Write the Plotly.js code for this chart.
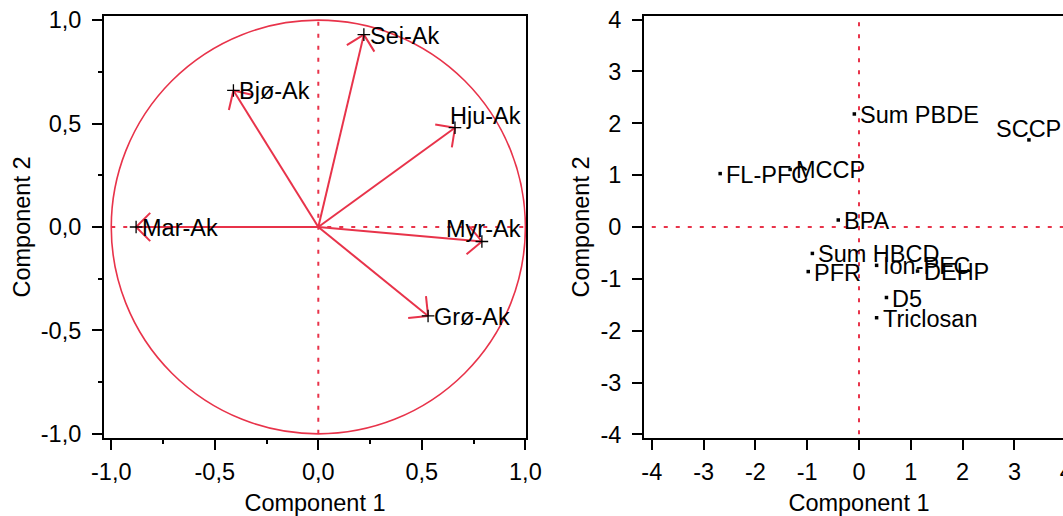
<!DOCTYPE html>
<html>
<head>
<meta charset="utf-8">
<script src="https://cdn.plot.ly/plotly-3.0.1.min.js"></script>
<style>
html, body { margin: 0; padding: 0; overflow: hidden; background: #fff; }
#chart { width: 1090px; height: 516px; }
</style>
</head>
<body>
<div id="chart"></div>
<script>
// ---- Data: loadings (left panel) ----
const loadingNames = ['Sei-Ak', 'Bjø-Ak', 'Hju-Ak', 'Mar-Ak', 'Myr-Ak', 'Grø-Ak'];
const loadingX = [0.22, -0.41, 0.66, -0.88, 0.79, 0.53];
const loadingY = [0.93, 0.66, 0.48, 0.00, -0.07, -0.43];

// ---- Data: scores (right panel) ----
const scoreNames = ['Sum PBDE', 'SCCP', 'FL-PFC', 'MCCP', 'BPA', 'Sum HBCD', 'PFR', 'Ion-PFC', 'DEHP', 'D5', 'Triclosan'];
const scoreX = [-0.09, 3.28, -2.68, -1.33, -0.40, -0.90, -0.98, 0.34, 1.13, 0.53, 0.34];
const scoreY = [2.18, 1.68, 1.03, 1.11, 0.135, -0.51, -0.86, -0.74, -0.85, -1.36, -1.75];

// ---- Ticks ----
const leftTicks = [-1.0, -0.5, 0.0, 0.5, 1.0];
const leftTickLabels = ['-1,0', '-0,5', '0,0', '0,5', '1,0'];
const rightTicks = [-4, -3, -2, -1, 0, 1, 2, 3, 4];
const rightTickLabels = ['-4', '-3', '-2', '-1', '0', '1', '2', '3', '4'];
const axisTitleX = 'Component 1';
const axisTitleY = 'Component 2';

// ---- Label placement style (not data) ----
const edgeLabels = new Set(['Hju-Ak', 'Myr-Ak']);
const aboveLabels = new Set(['SCCP']);

// ---- Layout constants ----
const W = 1090, H = 516;
const margin = { l: 104, r: 16, t: 16, b: 78 };
const plotW = W - margin.l - margin.r;
const plotH = H - margin.t - margin.b;
const xDom1 = [0, 0.43505], xDom2 = [0.5567, 1];
const xr1 = [-1.035, 1.003], yr1 = [-1.02, 1.02];
const xr2 = [-4.15, 4.15], yr2 = [-4.07, 4.07];
const RED = '#e8334a';
const FONT = 'Liberation Sans, Arial, Helvetica, sans-serif';
const FS = 23.5;

const sx = plotW * (xDom1[1] - xDom1[0]) / (xr1[1] - xr1[0]);
const sy = plotH / (yr1[1] - yr1[0]);

// Build arrow paths (shaft + open head) from the loading values
const ax = [], ay = [];
const armPx = 20, armAng = Math.PI / 4;
for (let i = 0; i < loadingX.length; i++) {
  const x = loadingX[i], y = loadingY[i];
  ax.push(0, x, null);
  ay.push(0, y, null);
  const px = x * sx, py = y * sy;
  const len = Math.hypot(px, py);
  const bx = -px / len, by = -py / len;
  for (const s of [-1, 1]) {
    const c = Math.cos(s * armAng), sn = Math.sin(s * armAng);
    const rx = bx * c - by * sn, ry = bx * sn + by * c;
    ax.push(x, x + rx * armPx / sx, null);
    ay.push(y, y + ry * armPx / sy, null);
  }
}

const traces = [
  {
    x: ax, y: ay, xaxis: 'x', yaxis: 'y', mode: 'lines', type: 'scatter',
    line: { color: RED, width: 2 }, hoverinfo: 'skip', showlegend: false
  },
  {
    x: loadingX, y: loadingY, xaxis: 'x', yaxis: 'y', mode: 'markers', type: 'scatter',
    marker: { symbol: 'cross-thin', size: 9, line: { color: '#000', width: 1.3 }, color: '#000' },
    showlegend: false
  },
  {
    x: scoreX, y: scoreY, xaxis: 'x2', yaxis: 'y2', mode: 'markers', type: 'scatter',
    marker: { symbol: 'square', size: 3.5, color: '#000' },
    showlegend: false
  }
];

const lblFont = { family: FONT, size: FS, color: '#000' };
const annotations = [];
loadingNames.forEach((n, i) => {
  if (edgeLabels.has(n)) {
    annotations.push({
      xref: 'x domain', yref: 'y', x: 1, y: loadingY[i], xanchor: 'right', yanchor: 'middle',
      xshift: -3, yshift: 12, text: n, showarrow: false, font: lblFont
    });
  } else {
    annotations.push({
      xref: 'x', yref: 'y', x: loadingX[i], y: loadingY[i], xanchor: 'left', yanchor: 'middle',
      xshift: 4, yshift: -1, text: n, showarrow: false, font: lblFont
    });
  }
});
scoreNames.forEach((n, i) => {
  if (aboveLabels.has(n)) {
    annotations.push({
      xref: 'x2', yref: 'y2', x: scoreX[i], y: scoreY[i], xanchor: 'center', yanchor: 'middle',
      yshift: 11, text: n, showarrow: false, font: lblFont
    });
  } else {
    annotations.push({
      xref: 'x2', yref: 'y2', x: scoreX[i], y: scoreY[i], xanchor: 'left', yanchor: 'middle',
      xshift: 4, yshift: -1, text: n, showarrow: false, font: lblFont
    });
  }
});

const dotLine = { color: RED, width: 2, dash: '4px,8px' };
const shapes = [
  { type: 'circle', xref: 'x', yref: 'y', x0: -1, x1: 1, y0: -1, y1: 1, line: { color: RED, width: 1.6 } },
  { type: 'line', xref: 'x', yref: 'y', x0: 0, x1: 0, y0: -1, y1: 1, line: dotLine, layer: 'below' },
  { type: 'line', xref: 'x', yref: 'y', x0: -1, x1: 1, y0: 0, y1: 0, line: dotLine, layer: 'below' },
  { type: 'line', xref: 'x2', yref: 'y2', x0: 0, x1: 0, y0: -4, y1: 4, line: dotLine, layer: 'below' },
  { type: 'line', xref: 'x2', yref: 'y2', x0: -4, x1: 4.15, y0: 0, y1: 0, line: dotLine, layer: 'below' }
];

function axisBase(extra) {
  return Object.assign({
    showgrid: false, zeroline: false, showline: true, mirror: true,
    linecolor: '#000', linewidth: 2, ticks: 'outside', ticklen: 10, tickwidth: 2, tickcolor: '#000',
    tickfont: { family: FONT, size: FS, color: '#000' }, automargin: false, fixedrange: true,
    tickmode: 'array'
  }, extra);
}
const minorTicks = { dtick: 0.25, tick0: 0, ticklen: 4, tickwidth: 2, tickcolor: '#000', ticks: 'outside' };

const layout = {
  width: W, height: H, margin: margin,
  paper_bgcolor: '#fff', plot_bgcolor: '#fff',
  showlegend: false,
  font: { family: FONT, size: FS, color: '#000' },
  xaxis: axisBase({
    domain: xDom1, range: xr1, anchor: 'y', tickvals: leftTicks, ticktext: leftTickLabels,
    minor: minorTicks, ticklabelstandoff: 2,
    title: { text: axisTitleX, standoff: 13, font: { family: FONT, size: FS, color: '#000' } }
  }),
  yaxis: axisBase({
    domain: [0, 1], range: yr1, anchor: 'x', tickvals: leftTicks, ticktext: leftTickLabels,
    minor: minorTicks, ticklabelstandoff: 6,
    title: { text: axisTitleY, standoff: 4, font: { family: FONT, size: FS, color: '#000' } }
  }),
  xaxis2: axisBase({
    domain: xDom2, range: xr2, anchor: 'y2', tickvals: rightTicks, ticktext: rightTickLabels,
    ticklabelstandoff: 2,
    title: { text: axisTitleX, standoff: 13, font: { family: FONT, size: FS, color: '#000' } }
  }),
  yaxis2: axisBase({
    domain: [0, 1], range: yr2, anchor: 'x2', tickvals: rightTicks, ticktext: rightTickLabels,
    ticklabelstandoff: 6,
    title: { text: axisTitleY, standoff: 4, font: { family: FONT, size: FS, color: '#000' } }
  }),
  shapes: shapes,
  annotations: annotations
};

Plotly.newPlot('chart', traces, layout, { staticPlot: true, displayModeBar: false });
</script>
</body>
</html>
